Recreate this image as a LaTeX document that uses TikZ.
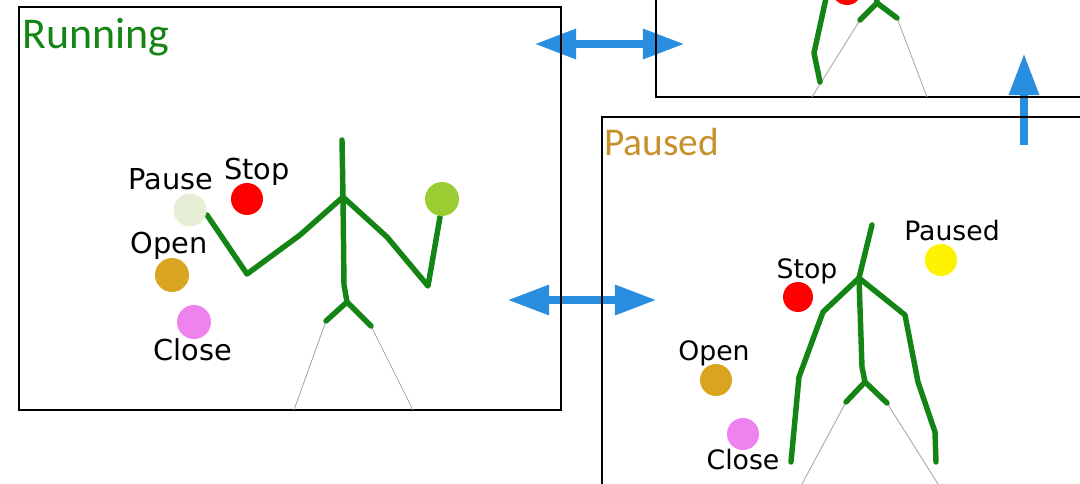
\documentclass[tikz,border=0pt]{standalone}
\usepackage{fontspec}
\usepackage{xcolor}
\usetikzlibrary{arrows.meta}
\newfontfamily\tagfont{DejaVu Sans}
\newfontfamily\headfont{Carlito}
\definecolor{BodyGreen}{HTML}{148414}
\definecolor{LegGrey}{HTML}{A8A8A8}
\definecolor{ArrowBlue}{HTML}{2A8EE0}
\definecolor{PauseTint}{HTML}{E6EFD6}
\definecolor{LimeBall}{HTML}{9ACD32}
\definecolor{OpenGold}{HTML}{DAA520}
\definecolor{CloseViolet}{HTML}{EE82EE}
\definecolor{PausedGold}{HTML}{C8902A}
\tikzset{
  panel/.style={draw=black,line width=1.7pt},
  limb/.style={draw=BodyGreen,line width=3.1pt,line cap=round,line join=round},
  leg/.style={draw=LegGrey,line width=0.5pt},
  ball/.style={circle,inner sep=0pt,draw=none,minimum size=#1},
  ball/.default=0.66cm,
  tag/.style={anchor=base,text=black,font=\tagfont\fontsize{16.4}{19}\selectfont},
  small tag/.style={tag,font=\tagfont\fontsize{15.2}{18}\selectfont},
  swap arrow/.style={draw=ArrowBlue,line width=5pt,
    {Triangle[length=24pt,width=16pt]}-{Triangle[length=24pt,width=16pt]}},
  lift arrow/.style={draw=ArrowBlue,line width=5pt,
    -{Triangle[length=24pt,width=16pt]}}
}

\begin{document}
\begin{tikzpicture}[x=0.02cm,y=-0.02cm]
  \useasboundingbox (0,0) rectangle (1080,484);
  \clip (0,0) rectangle (1080,484);

  % arrows between the states
  \coordinate (runTopL) at (534,44);
  \coordinate (runTopR) at (685,44);
  \coordinate (runPauseL) at (507,300);
  \coordinate (runPauseR) at (657,300);
  \coordinate (liftFoot) at (1024,145);
  \coordinate (liftTip) at (1024,53);
  \draw[swap arrow] (runTopL) -- (runTopR);
  \draw[swap arrow] (runPauseL) -- (runPauseR);
  \draw[lift arrow] (liftFoot) -- (liftTip);

  % running state
  \draw[panel] (19,7) rectangle (561,410);
  \node[anchor=base west,inner sep=0pt,text=BodyGreen,font=\headfont\fontsize{25}{28}\selectfont]
    (runTitle) at (22,48) {Running};
  \draw[leg] (326,321) -- (294,410);
  \draw[leg] (371,326) -- (413,410);
  \draw[limb] (342,140) -- (343,197) -- (344,285) -- (347,302);
  \draw[limb] (326,321) -- (347,302) -- (371,326);
  \draw[limb] (343,197) -- (300,235) -- (247,274) -- (207,215);
  \draw[limb] (343,197) -- (387,237) -- (428,286) -- (440,217);
  \node[ball,fill=PauseTint] (runPause) at (190,210) {};
  \node[ball=0.64cm,fill=red] (runStop) at (247,199) {};
  \node[ball=0.68cm,fill=LimeBall] (runLime) at (442,199) {};
  \node[ball=0.68cm,fill=OpenGold] (runOpen) at (172,275) {};
  \node[ball=0.68cm,fill=CloseViolet] (runClose) at (194,322) {};
  \node[tag] (runPauseTag) at (171,189) {Pause};
  \node[tag] (runStopTag) at (257,179) {Stop};
  \node[tag] (runOpenTag) at (169,253) {Open};
  \node[tag] (runCloseTag) at (193,360) {Close};

  % previous state, cut off at the top
  \draw[panel] (656,-20) rectangle (1100,97);
  \draw[leg] (860,20) -- (812,97);
  \draw[leg] (897,18) -- (927,97);
  \draw[limb] (876,-30) -- (877,3);
  \draw[limb] (860,20) -- (877,3) -- (897,18);
  \draw[limb] (830,-20) -- (814,53) -- (820,82);
  \node[ball=0.6cm,fill=red] (topStop) at (847,-10) {};

  % paused state
  \draw[panel] (602,117) rectangle (1100,500);
  \node[anchor=base west,inner sep=0pt,text=PausedGold,font=\headfont\fontsize{22.4}{26}\selectfont]
    (pauseTitle) at (604,155) {Paused};
  \draw[leg] (846,402) -- (802,484);
  \draw[leg] (887,403) -- (938,484);
  \draw[limb] (872,225) -- (859,278) -- (862,367) -- (865,382);
  \draw[limb] (846,402) -- (865,382) -- (887,403);
  \draw[limb] (859,278) -- (823,312) -- (799,377) -- (791,462);
  \draw[limb] (859,278) -- (905,315) -- (918,382) -- (935,432) -- (936,462);
  \node[ball=0.6cm,fill=red] (pauseStop) at (798,297) {};
  \node[ball=0.64cm,fill=yellow] (pauseLamp) at (941,260) {};
  \node[ball=0.64cm,fill=OpenGold] (pauseOpen) at (716,380) {};
  \node[ball=0.64cm,fill=CloseViolet] (pauseClose) at (743,434) {};
  \node[small tag] (pauseLampTag) at (952,240) {Paused};
  \node[small tag] (pauseStopTag) at (807,278) {Stop};
  \node[small tag] (pauseOpenTag) at (714,360) {Open};
  \node[small tag] (pauseCloseTag) at (743,469) {Close};
\end{tikzpicture}
\end{document}
